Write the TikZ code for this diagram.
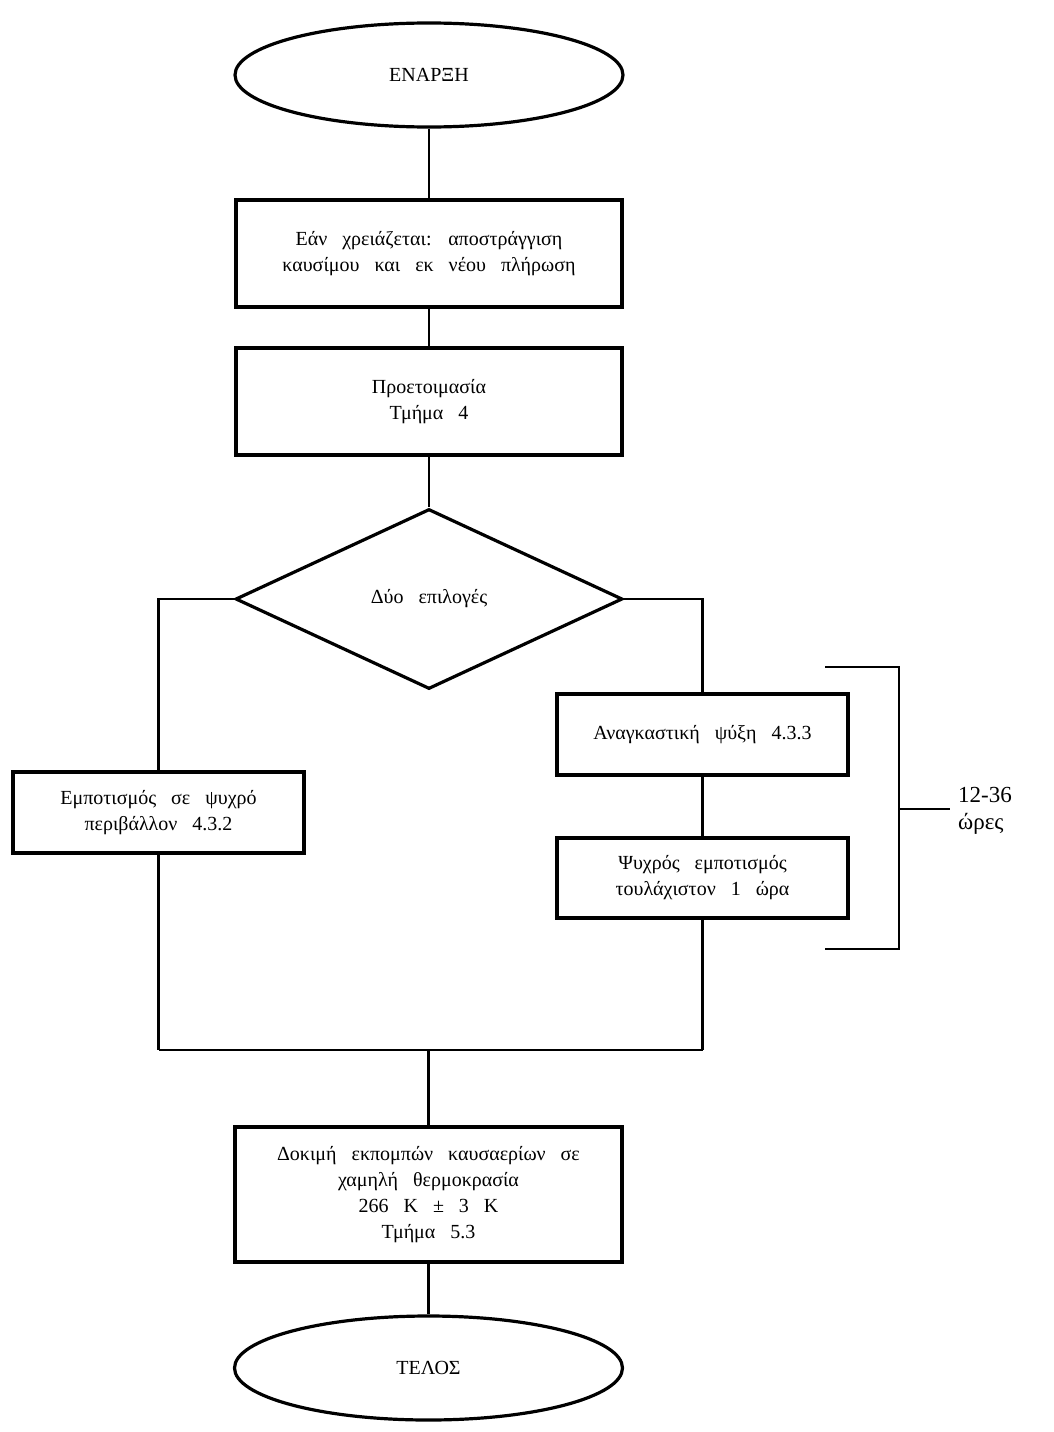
\documentclass[tikz,border=0pt]{standalone}
\usepackage{fontspec}
\setmainfont{Liberation Serif}[WordSpace=3]
\usetikzlibrary{shapes.geometric}
\begin{document}
\begin{tikzpicture}[x=1pt,y=-1pt,
  shp/.style={draw=black,line width=3.2pt,inner sep=0pt,align=center,font=\fontsize{20}{26}\selectfont},
  term/.style={shp,ellipse,minimum width=388pt,minimum height=104pt},
  box/.style={shp,rectangle,minimum width=#1},
  box/.default=386pt,
  conn/.style={draw=black,line width=2.4pt},
  lbl/.style={font=\fontsize{23}{27}\selectfont,align=left,inner sep=0pt}]
\useasboundingbox (0,0) rectangle (1054,1432);
\node[term] (start) at (429,75) {ΕΝΑΡΞΗ};
\node[box,minimum height=107pt] (b1) at (429,253.5) {Εάν χρειάζεται: αποστράγγιση\\καυσίμου και εκ νέου πλήρωση};
\node[box,minimum height=107pt] (b2) at (429,401.5) {Προετοιμασία\\Τμήμα 4};
\node[shp,diamond,minimum width=387pt,minimum height=180pt] (dec) at (429,599) {\raisebox{4pt}{Δύο επιλογές}};
\node[box=291pt,minimum height=81pt] (left) at (158.5,812.5) {Εμποτισμός σε ψυχρό\\περιβάλλον 4.3.2};
\node[box=291pt,minimum height=81pt] (r1) at (702.5,734.5) {Αναγκαστική ψύξη 4.3.3};
\node[box=291pt,minimum height=80pt] (r2) at (702.5,878) {Ψυχρός εμποτισμός\\τουλάχιστον 1 ώρα};
\node[box=387pt,minimum height=135pt] (fin) at (428.5,1194.5) {Δοκιμή εκπομπών καυσαερίων σε\\χαμηλή θερμοκρασία\\266 K ± 3 K\\Τμήμα 5.3};
\node[term] (end) at (428.5,1368) {ΤΕΛΟΣ};
\coordinate (lc) at (158.5,599);
\coordinate (rc) at (702.5,599);
\coordinate (lb) at (158.5,1050);
\coordinate (rb) at (702.5,1050);
\coordinate (mj) at (428.5,1050);
\draw[conn] (start) -- (b1);
\draw[conn] (b1) -- (b2);
\draw[conn] (b2) -- (dec);
\draw[conn] (dec.west) -- (lc) -- (left.north);
\draw[conn] (dec.east) -- (rc) -- (r1.north);
\draw[conn] (r1) -- (r2);
\draw[conn] (left.south) -- (lb);
\draw[conn] (rb) -- (r2.south);
\draw[conn,line width=1.5pt] (lb) -- (rb);
\draw[conn] (mj) -- (fin.north);
\draw[conn] (fin) -- (end);
% bracket
\coordinate (bt1) at (825,667);
\coordinate (bt2) at (899,667);
\coordinate (bb1) at (825,949);
\coordinate (bb2) at (899,949);
\coordinate (bm) at (899,809);
\coordinate (bm2) at (950,809);
\draw[conn] (bt1) -- (bt2) -- (bb2) -- (bb1);
\draw[conn] (bm) -- (bm2);
\node[lbl,anchor=west] (hrs) at (958,811) {12-36\\ώρες};
\end{tikzpicture}
\end{document}
